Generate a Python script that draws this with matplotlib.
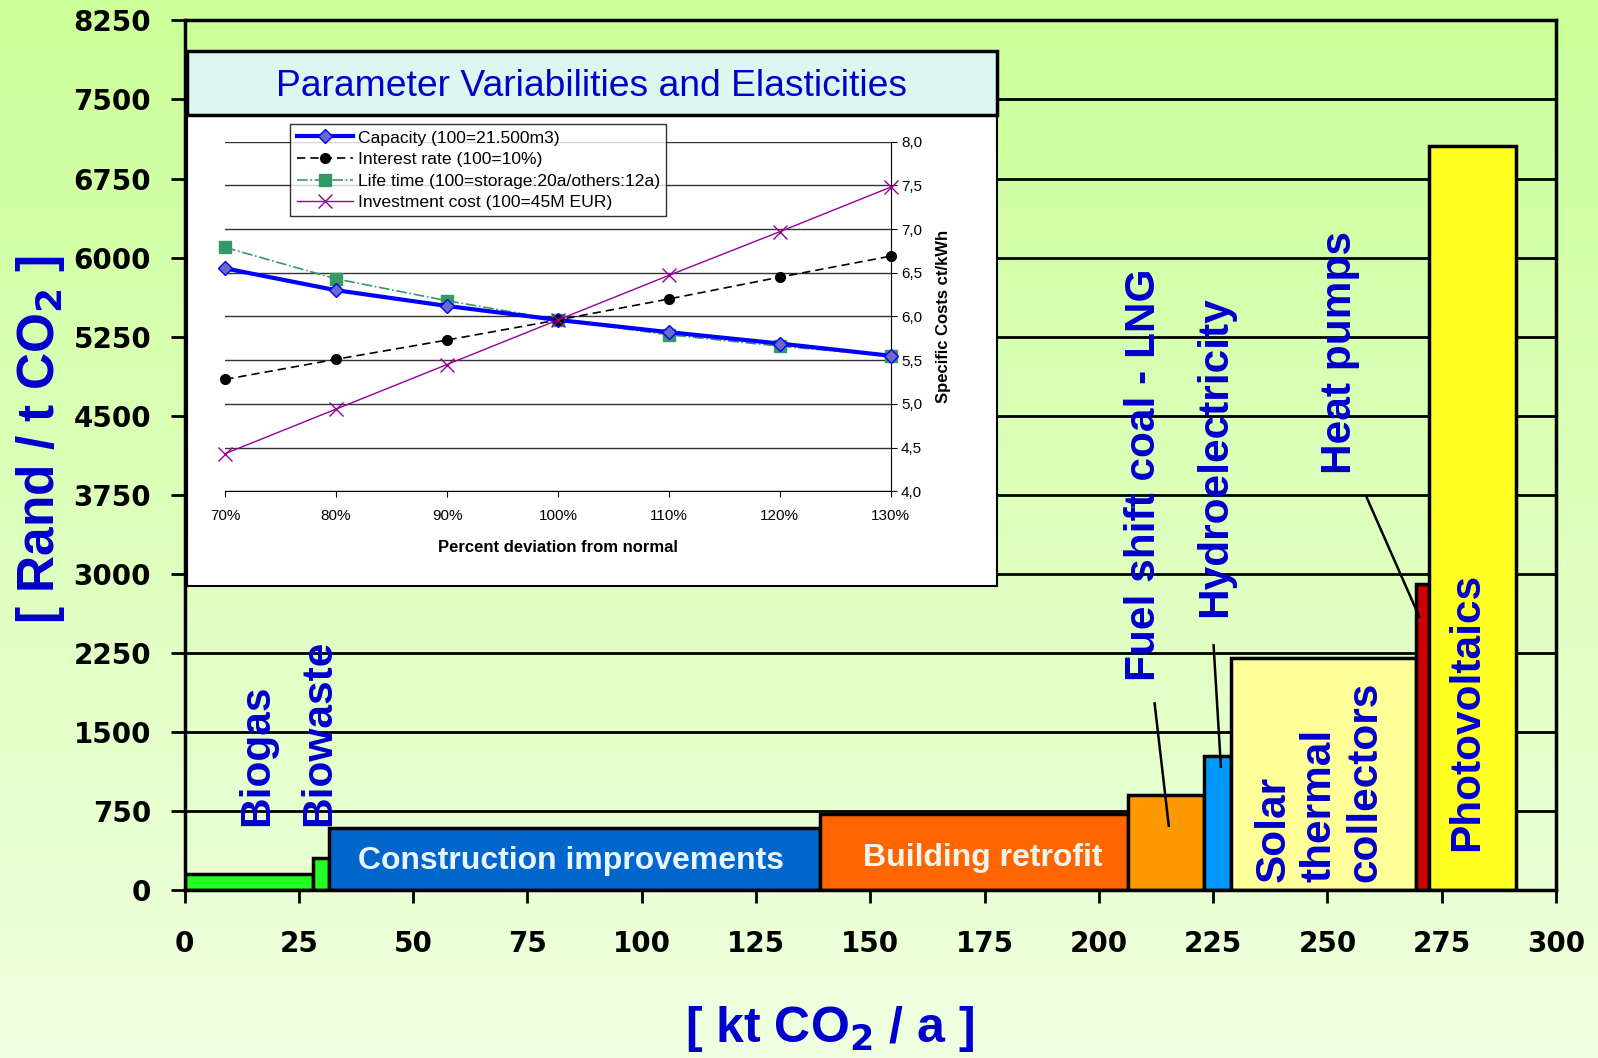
import numpy as np
import matplotlib
matplotlib.use('Agg')
from matplotlib import pyplot as plt
from matplotlib.patches import Rectangle

plt.rcParams['font.family'] = ['Liberation Sans', 'DejaVu Sans']

# main chart: abatement options, cumulative width in kt CO2/a, cost in Rand/t CO2
names = ['Biogas', 'Biowaste', 'Construction improvements', 'Building retrofit',
         'Fuel shift coal - LNG', 'Hydroelectricity', 'Solar thermal collectors',
         'Heat pumps', 'Photovoltaics']
widths = [28, 3.6, 107.4, 67.4, 16.6, 6, 40.4, 2.9, 19]
costs = [150, 300, 590, 720, 900, 1270, 2200, 2900, 7060]
colors = ['#22ff22', '#22ff22', '#0066cc', '#ff6600', '#ff9900', '#0099ff',
          '#ffff99', '#cc0000', '#ffff22']

xticks = list(range(0, 301, 25))
yticks = list(range(0, 8251, 750))

# inset: sensitivity of specific costs
pct = [70, 80, 90, 100, 110, 120, 130]
capacity = [6.55, 6.30, 6.12, 5.96, 5.82, 5.69, 5.55]
interest = [5.28, 5.51, 5.73, 5.96, 6.20, 6.45, 6.69]
lifetime = [6.79, 6.43, 6.18, 5.96, 5.79, 5.66, 5.55]
investment = [4.43, 4.94, 5.45, 5.96, 6.47, 6.97, 7.48]

W, H = 1598, 1058
fig = plt.figure(figsize=(W / 100, H / 100), dpi=100)

# background gradient
bg = fig.add_axes([0, 0, 1, 1], zorder=-5)
top = np.array([0.80, 1.0, 0.60])
bot = np.array([0.94, 1.0, 0.88])
t = np.linspace(0, 1, 256)[:, None]
grad = (top * (1 - t) + bot * t)[:, None, :]
bg.imshow(grad, aspect='auto', extent=[0, 1, 0, 1])
bg.axis('off')

ax = fig.add_axes([184.5 / W, 1 - 890 / H, (1556 - 184.5) / W, (890 - 20.4) / H])
ax.set_facecolor('none')
ax.set_xlim(0, 300)
ax.set_ylim(0, 8250)

for yv in yticks:
    ax.plot([0, 300], [yv, yv], color='black', lw=2, zorder=1)

left = 0
for w, c, col in zip(widths, costs, colors):
    ax.add_patch(Rectangle((left, 0), w, c, facecolor=col, edgecolor='black', lw=2.5, zorder=3))
    left += w

for s in ax.spines.values():
    s.set_linewidth(2.5)
    s.set_zorder(5)
ax.set_xticks(xticks)
ax.set_yticks(yticks)
ax.tick_params(axis='x', length=9, width=2, pad=20, labelsize=20)
ax.tick_params(axis='y', length=10, width=2, pad=14, labelsize=20)
for lab in ax.get_xticklabels() + ax.get_yticklabels():
    lab.set_fontweight('bold')
    lab.set_family('DejaVu Sans')

blue = '#0000cc'
lab_kw = dict(color=blue, fontsize=30.5, fontweight='bold', rotation=90,
              ha='center', va='bottom', zorder=6)
ax.text(15.8, 609, 'Biogas', **lab_kw)
ax.text(29.4, 609, 'Biowaste', **lab_kw)
ax.text(209.9, 1983, 'Fuel shift coal - LNG', **lab_kw)
ax.text(225.5, 2592, 'Hydroelectricity', **lab_kw)
ax.text(252.7, 3946, 'Heat pumps', **lab_kw)
ax.text(248.3, 77, 'Solar\nthermal\ncollectors', multialignment='left', linespacing=1.18, **lab_kw)
ax.text(280.6, 367, 'Photovoltaics', **lab_kw)

ax.text(84.5, 275, 'Construction improvements', color='#e8f4ff', fontsize=23,
        fontweight='bold', ha='center', va='center', zorder=6)
ax.text(174.5, 305, 'Building retrofit', color='#eef4ee', fontsize=23,
        fontweight='bold', ha='center', va='center', zorder=6)

# leader lines
ax.plot([212.2, 215.3], [1770, 609], color='black', lw=1.8, zorder=6)
ax.plot([225.1, 226.7], [2321, 1170], color='black', lw=1.8, zorder=6)
ax.plot([258.5, 270.1], [3733, 2592], color='black', lw=1.8, zorder=6)

fig.text(41 / W, 1 - 440 / H, r'[ Rand / t CO$_\mathbf{2}$ ]', rotation=90, color=blue,
         fontsize=37, fontweight='bold', ha='center', va='center')
fig.text(830 / W, 1 - 1029 / H, r'[ kt CO$_\mathbf{2}$ / a ]', color=blue,
         fontsize=36, fontweight='bold', ha='center', va='center')

# inset frame and title box
fig.patches.append(Rectangle((186.5 / W, 1 - 586 / H), 811 / W, 471 / H, transform=fig.transFigure,
                             facecolor='white', edgecolor='black', lw=1.5, zorder=8))
fig.patches.append(Rectangle((186.5 / W, 1 - 115 / H), 811 / W, 64 / H, transform=fig.transFigure,
                             facecolor='#ddf6f0', edgecolor='black', lw=2.5, zorder=8))
fig.text(592 / W, 1 - 86 / H, 'Parameter Variabilities and Elasticities', color=blue,
         fontsize=26.8, ha='center', va='center', zorder=9)

ia = fig.add_axes([225.2 / W, 1 - 491.2 / H, (890.7 - 225.2) / W, (491.2 - 141.7) / H], zorder=10)
ia.set_facecolor('none')
ia.set_xlim(70, 130)
ia.set_ylim(4.0, 8.0)
for yv in np.arange(4.0, 8.01, 0.5):
    ia.axhline(yv, color='#333333', lw=1, zorder=0)
ia.plot(pct, capacity, color='#0000ff', lw=3, marker='D', ms=7, mfc='#6a6acd',
        mec='#0000ff', mew=1, label='Capacity (100=21.500m3)', clip_on=False, zorder=3)
ia.plot(pct, interest, color='black', lw=1.2, ls=(0, (5, 3)), marker='o', ms=7,
        label='Interest rate (100=10%)', clip_on=False, zorder=3)
ia.plot(pct, lifetime, color='#339966', lw=1.2, ls='-.', marker='s', ms=8,
        label='Life time (100=storage:20a/others:12a)', clip_on=False, zorder=2)
ia.plot(pct, investment, color='#990099', lw=1, marker='x', ms=10, mew=1,
        label='Investment cost (100=45M EUR)', clip_on=False, zorder=4)

ia.spines['left'].set_visible(False)
ia.spines['top'].set_visible(False)
ia.yaxis.tick_right()
ia.yaxis.set_label_position('right')
ia.set_xticks(pct)
ia.set_xticklabels([f'{p}%' for p in pct])
ia.set_yticks(np.arange(4.0, 8.01, 0.5))
ia.set_yticklabels([f'{v:.1f}'.replace('.', ',') for v in np.arange(4.0, 8.01, 0.5)])
ia.tick_params(axis='both', labelsize=11, length=4, direction='out')
ia.tick_params(axis='x', pad=9)
ia.set_xlabel('Percent deviation from normal', fontsize=12, fontweight='bold', labelpad=12)
ia.set_ylabel('Specific Costs ct/kWh', fontsize=12, fontweight='bold', labelpad=10)

leg = ia.legend(loc='upper left', bbox_to_anchor=(0.098, 1.05), fontsize=12.6,
                frameon=True, fancybox=False, edgecolor='black', handlelength=3.2,
                borderpad=0.35, labelspacing=0.36, handletextpad=0.3, borderaxespad=0)
leg.get_frame().set_linewidth(1)

fig.savefig('out.png', dpi=100)
